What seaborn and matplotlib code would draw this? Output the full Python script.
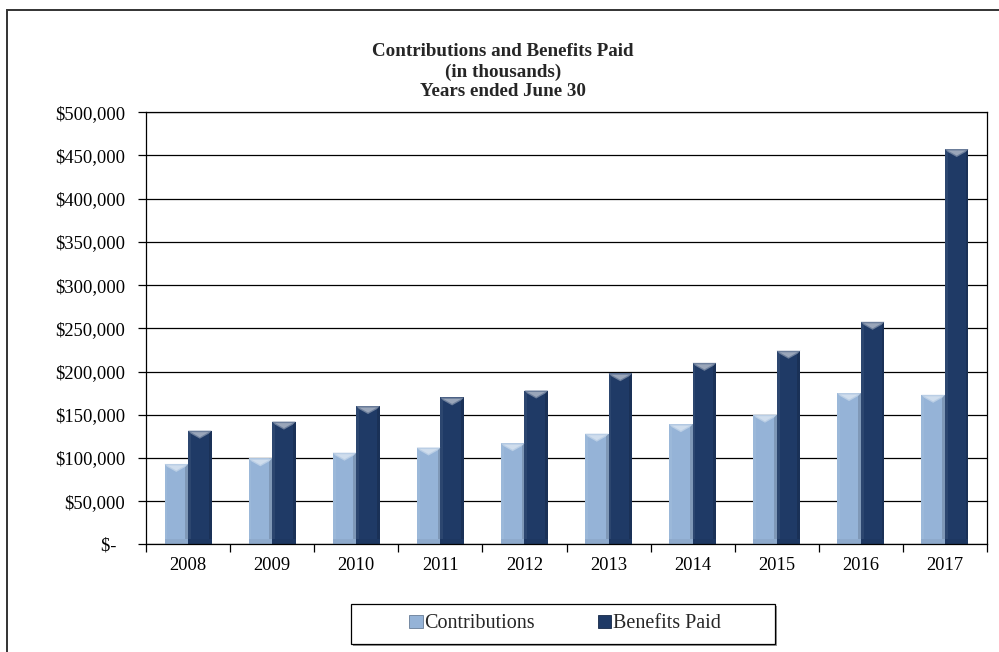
import matplotlib
matplotlib.use("Agg")
import matplotlib.pyplot as plt
from matplotlib.patches import Rectangle, Polygon
from matplotlib.ticker import FuncFormatter, MultipleLocator
import numpy as np
import pandas as pd
import seaborn as sns

years = ["2008", "2009", "2010", "2011", "2012", "2013", "2014", "2015", "2016", "2017"]
contributions = [93000, 99500, 106000, 112000, 117000, 128000, 139000, 150000, 175000, 173000]
benefits_paid = [131500, 142000, 160000, 170000, 178000, 198000, 210000, 224000, 257500, 457500]
series_names = ["Contributions", "Benefits Paid"]
series_colors = ["#95B3D7", "#1F3A66"]

df = pd.DataFrame({
    "Year": years * 2,
    "Amount": contributions + benefits_paid,
    "Series": [series_names[0]] * len(years) + [series_names[1]] * len(years),
})

sns.set_theme(style="white")
plt.rcParams["font.family"] = ["Liberation Serif", "DejaVu Serif"]

fig = plt.figure(figsize=(9.99, 6.52), dpi=100)
ax = fig.add_axes([146 / 999, 1 - 544.3 / 652, (987 - 146) / 999, (544.3 - 112.3) / 652])

sns.barplot(data=df, x="Year", y="Amount", hue="Series", order=years,
            hue_order=series_names, palette=series_colors, width=0.56,
            saturation=1, dodge=True, ax=ax, legend=False, linewidth=0)


def lighten(c, f):
    c = np.array(matplotlib.colors.to_rgb(c))
    return tuple(c + (1 - c) * f)


def darken(c, f):
    c = np.array(matplotlib.colors.to_rgb(c))
    return tuple(c * (1 - f))


# bevel shading on each bar: shaded sides and a light chevron at the top
px = 500000 / 432.0  # data units per pixel on the value axis
for patch in list(ax.patches):
    x0, y0 = patch.get_x(), patch.get_y()
    w, h = patch.get_width(), patch.get_height()
    x1, top, cx = x0 + w, y0 + h, x0 + w / 2
    base = patch.get_facecolor()
    edge_w = w * 0.12
    ax.add_patch(Rectangle((x0, y0), edge_w, h, facecolor=lighten(base, 0.06), lw=0, zorder=2.1))
    ax.add_patch(Rectangle((x1 - edge_w, y0), edge_w, h, facecolor=darken(base, 0.15), lw=0, zorder=2.1))
    ax.add_patch(Rectangle((x0, y0), w, 5 * px, facecolor=darken(base, 0.05), lw=0, zorder=2.15))
    ax.add_patch(Polygon([(x0, top), (x1, top), (x1 - edge_w, top - 3 * px),
                          (cx, top - 8 * px), (x0 + edge_w, top - 3 * px)], closed=True,
                         facecolor=lighten(base, 0.35), lw=0, zorder=2.2))
    ax.add_patch(Polygon([(x0 + edge_w, top - 1.5 * px), (x1 - edge_w, top - 1.5 * px),
                          (cx, top - 6.5 * px)], closed=True,
                         facecolor=lighten(base, 0.55), lw=0, zorder=2.25))

ax.set_ylim(0, 500000)
ax.set_xlim(-0.5, len(years) - 0.5)
ax.yaxis.set_major_locator(MultipleLocator(50000))


def money(v, pos):
    if abs(v) < 1:
        return "$-  "
    return "${:,.0f}".format(v)


ax.yaxis.set_major_formatter(FuncFormatter(money))
ax.set_xlabel("")
ax.set_ylabel("")

ax.grid(axis="y", color="black", linewidth=0.9)
ax.grid(axis="x", visible=False)
ax.set_axisbelow(True)
for side in ["left", "bottom", "right", "top"]:
    ax.spines[side].set_visible(True)
    ax.spines[side].set_color("black")
    ax.spines[side].set_linewidth(0.9)

# category labels centered, tick marks on category boundaries
ax.set_xticks(np.arange(len(years)))
ax.set_xticklabels(years)
ax.set_xticks(np.arange(len(years) + 1) - 0.5, minor=True)
ax.tick_params(axis="x", which="major", length=0, pad=9, labelsize=13.3, colors="black")
ax.tick_params(axis="x", which="minor", length=6, width=0.9, color="black", direction="out", bottom=True)
ax.tick_params(axis="y", which="major", length=6, width=0.9, color="black", direction="out",
               left=True, pad=9, labelsize=13.3, labelcolor="black")

# title block
title_lines = ["Contributions and Benefits Paid", "(in thousands)", "Years ended June 30"]
for i, line in enumerate(title_lines):
    fig.text(503 / 999, 1 - (52 + 20 * i) / 652, line, ha="center", va="center",
             fontsize=13.7, fontweight="bold")

# legend box with drop shadow
box = (351 / 999, 1 - 644 / 652, (775 - 351) / 999, 40 / 652)
fig.patches.append(Rectangle((box[0] + 2 / 999, box[1] - 2 / 652), box[2], box[3],
                             transform=fig.transFigure, facecolor="0.6", edgecolor="none", zorder=1))
fig.patches.append(Rectangle(box[:2], box[2], box[3], transform=fig.transFigure,
                             facecolor="white", edgecolor="black", linewidth=0.9, zorder=1.1))
handles = [Rectangle((0, 0), 1, 1, facecolor=c, edgecolor=darken(c, 0.3), lw=0.6) for c in series_colors]
leg = fig.legend(handles, series_names, loc="center", bbox_to_anchor=(565 / 999, 1 - 624 / 652),
                 ncol=2, frameon=False, fontsize=14.5, handlelength=0.65, handleheight=0.65,
                 handletextpad=0.1, columnspacing=3.1, borderaxespad=0)
leg.set_zorder(3)

# outer chart border
fig.patches.append(Rectangle((6.5 / 999, -0.05), 1.2, 1 - 10 / 652 + 0.05,
                             transform=fig.transFigure, fill=False, edgecolor="#333333",
                             linewidth=1.4, zorder=0))

fig.savefig("out.png", dpi=100, facecolor="white")
